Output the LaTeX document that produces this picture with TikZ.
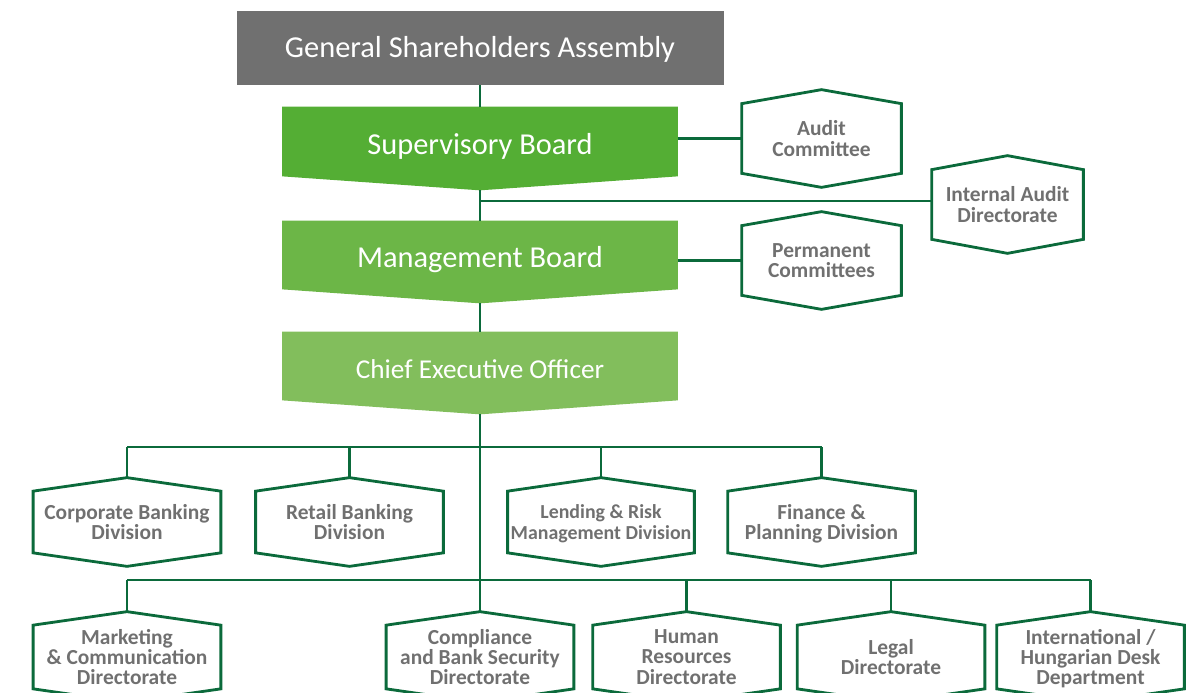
\documentclass[tikz,border=0pt]{standalone}
\usepackage{fontspec}
\setmainfont{Carlito}
\usepackage{tikz}
\usetikzlibrary{calc,backgrounds}
\definecolor{ink}{HTML}{0B6A3B}
\definecolor{muted}{HTML}{707070}
\definecolor{greenA}{HTML}{54AE34}
\definecolor{greenB}{HTML}{6CB647}
\definecolor{greenC}{HTML}{82BE5C}
% outline of a unit (pointed top and bottom)
\newcommand{\hexframe}[2][0.27cm]{\draw[frame] (#2.north) -- ([yshift=-#1]#2.north east) -- ([yshift=#1]#2.south east) -- (#2.south) -- ([yshift=#1]#2.south west) -- ([yshift=-#1]#2.north west) -- cycle;}
% filled board shape (pointed bottom)
\newcommand{\boardfill}[2]{\fill[#2] (#1.north west) -- (#1.north east) -- ([yshift=0.28cm]#1.south east) -- (#1.south) -- ([yshift=0.28cm]#1.south west) -- cycle;}

\begin{document}
\begin{tikzpicture}[link/.style={draw=ink,line width=1.5pt},frame/.style={draw=ink,line width=1.6pt},
  unit/.style={minimum width=3.74cm,minimum height=1.76cm,inner sep=0pt,align=center,text=muted,text depth=-0.12cm,font=\bfseries\fontsize{12.2}{11.6}\selectfont},
  board/.style={minimum width=7.9cm,minimum height=1.64cm,inner sep=0pt,text=white,text height=0.5cm,text depth=0.25cm,font=\fontsize{17.3}{20}\selectfont}]
\useasboundingbox (0,0) rectangle (23.96,-13.86);
\clip (0,0) rectangle (23.96,-13.86);
% top of the chart
\node[fill=muted,minimum width=9.74cm,minimum height=1.48cm,text=white,text height=0.5cm,text depth=0.1cm,font=\fontsize{17.3}{20}\selectfont] (gsa) at (9.6,-0.96) {General Shareholders Assembly};
\node[board,minimum height=1.66cm] (sb) at (9.6,-2.97) {Supervisory Board};
\node[board,text height=0.45cm] (mb) at (9.6,-5.24) {Management Board};
\node[board,text height=0.45cm,font=\fontsize{15.5}{18}\selectfont] (ceo) at (9.6,-7.46) {Chief Executive Officer};
\begin{scope}[on background layer]
\boardfill{sb}{greenA} \boardfill{mb}{greenB} \boardfill{ceo}{greenC}
\end{scope}
% committees
\node[unit,minimum width=3.18cm,minimum height=1.94cm] (audit) at (16.43,-2.77) {Audit\\Committee};
\node[unit,minimum width=3.02cm,minimum height=1.94cm] (intaudit) at (20.15,-4.09) {Internal Audit\\Directorate};
\node[unit,minimum width=3.18cm,minimum height=1.94cm] (perm) at (16.43,-5.21) {Permanent\\Committees};
% divisions
\node[unit] (corp) at (2.54,-10.44) {Corporate Banking\\Division};
\node[unit] (retail) at (6.99,-10.44) {Retail Banking\\Division};
\node[unit,minimum width=3.72cm,font=\bfseries\fontsize{11.3}{11.6}\selectfont] (lend) at (12.02,-10.44) {Lending \& Risk\\Management Division};
\node[unit] (fin) at (16.43,-10.44) {Finance \&\\Planning Division};
% directorates
\node[unit,minimum height=1.8cm] (mkt) at (2.54,-13.14) {Marketing\\\& Communication\\Directorate};
\node[unit,minimum height=1.8cm] (compl) at (9.6,-13.14) {Compliance\\and Bank Security\\Directorate};
\node[unit,minimum height=1.8cm] (hr) at (13.73,-13.14) {Human\\Resources\\Directorate};
\node[unit,minimum height=1.8cm] (legal) at (17.82,-13.14) {Legal\\Directorate};
\node[unit,minimum height=1.8cm] (intl) at (21.81,-13.14) {International /\\Hungarian Desk\\Department};
\foreach \n in {audit,intaudit,perm} \hexframe[0.28cm]{\n};
\foreach \n in {corp,retail,lend,fin,mkt,compl,hr,legal,intl} \hexframe{\n};
% connectors
\coordinate (split1) at (9.6,-8.94);
\coordinate (split2) at (9.6,-11.6);
\draw[link] (gsa.south) -- (sb.north);
\draw[link] (sb.south) -- (mb.north);
\draw[link] (mb.south) -- (ceo.north);
\draw[link] (ceo.south) -- (compl.north);
\draw[link] (audit.west) -- (audit.west -| sb.east);
\draw[link] ([yshift=0.07cm]intaudit.west) -- ([yshift=0.07cm]intaudit.west -| sb.south);
\draw[link] (perm.west) -- (perm.west -| mb.east);
\foreach \n in {corp,retail,lend,fin} \draw[link] (\n.north) -- (\n.north |- split1);
\draw[link] (corp.north |- split1) -- (fin.north |- split1);
\foreach \n in {mkt,hr,legal,intl} \draw[link] (\n.north) -- (\n.north |- split2);
\draw[link] (mkt.north |- split2) -- (intl.north |- split2);
\end{tikzpicture}
\end{document}
